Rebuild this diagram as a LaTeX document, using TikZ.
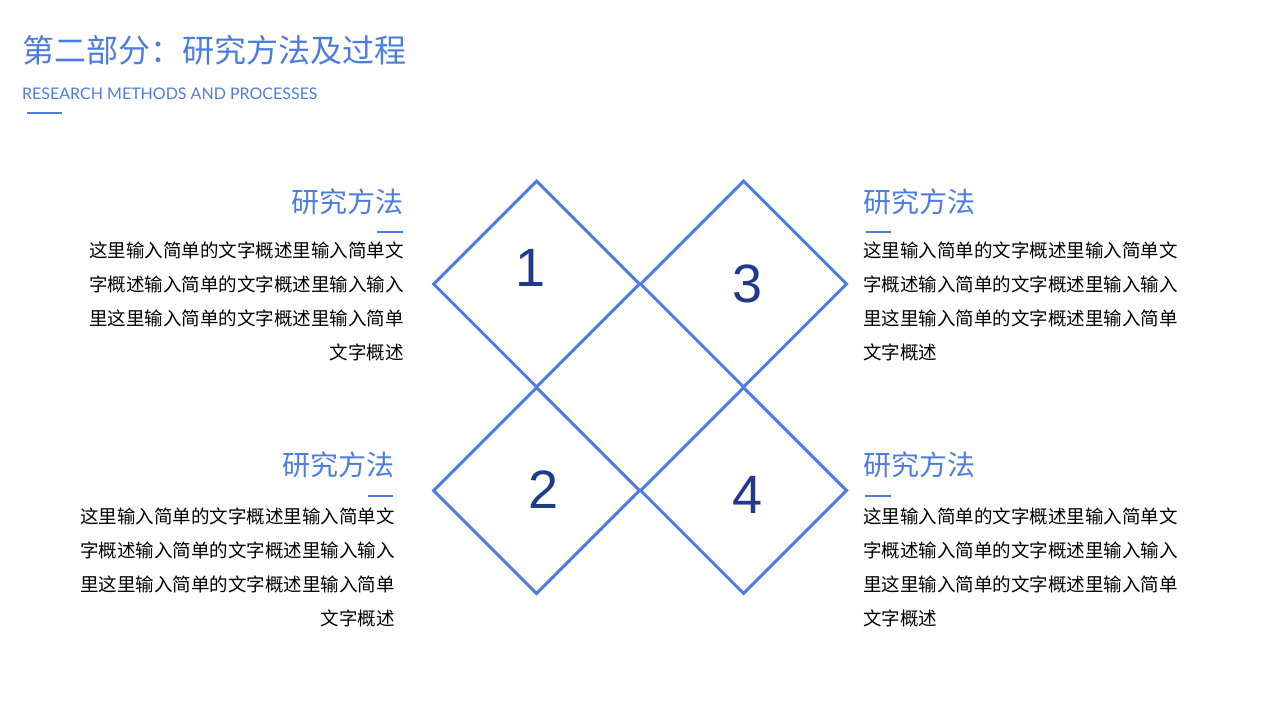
\documentclass[tikz,border=0pt]{standalone}
\usepackage{fontspec}
\setmainfont{Noto Sans CJK SC}
\newfontfamily\numfont{Liberation Sans}
\newfontfamily\latinfont{Lato}
\usetikzlibrary{shapes.geometric}
\definecolor{themeblue}{RGB}{77,124,224}
\definecolor{numblue}{RGB}{31,58,138}

\begin{document}
\begin{tikzpicture}
    [   x = 1pt, y = -1pt
    ,   diamondbox/.style = {draw = themeblue, line width = 3pt, shape = diamond,
                             minimum width = 207pt, minimum height = 207pt, inner sep = 0pt}
    ,   numlabel/.style = {text = numblue, inner sep = 0pt, font = \numfont\fontsize{54}{54}\selectfont}
    ,   heading/.style = {text = themeblue, inner sep = 0pt, font = \fontsize{28}{28}\selectfont}
    ,   bodytext/.style = {inner sep = 0pt, font = \fontsize{18.5}{34}\selectfont}
    ,   rule/.style = {draw = themeblue, line width = 2pt}
    ]
    \useasboundingbox (0,0) rectangle (1280,720);

    % title
    \node[anchor = base west, inner sep = 0pt, text = themeblue, font = \fontsize{32}{32}\selectfont]
    (title) at (22,62) {第二部分：研究方法及过程};
    \node[anchor = base west, inner sep = 0pt, text = themeblue, font = \latinfont\fontsize{16}{16}\selectfont]
    (subtitle) at (22,99) {RESEARCH METHODS AND PROCESSES};
    \draw[rule] (27,113) -- (62,113);

    % diamonds
    \node[diamondbox] (d1) at (536.5,284) {};
    \node[diamondbox] (d3) at (743.5,284) {};
    \node[diamondbox] (d2) at (536.5,490.5) {};
    \node[diamondbox] (d4) at (743.5,490.5) {};

    \node[numlabel] (n1) at (531,267.5) {1};
    \node[numlabel] (n3) at (747.5,283.5) {3};
    \node[numlabel] (n2) at (543.5,490) {2};
    \node[numlabel] (n4) at (748,495) {4};

    % left blocks
    \node[heading, anchor = north east] (h1) at (404,189) {研究方法};
    \draw[rule] (377,232) -- (403,232);
    \node[bodytext, anchor = north east, align = right] (b1) at (404,242)
    {这里输入简单的文字概述里输入简单文\\字概述输入简单的文字概述里输入输入\\里这里输入简单的文字概述里输入简单\\文字概述};

    \node[heading, anchor = north east] (h2) at (395,452) {研究方法};
    \draw[rule] (368,496) -- (393,496);
    \node[bodytext, anchor = north east, align = right] (b2) at (395,508)
    {这里输入简单的文字概述里输入简单文\\字概述输入简单的文字概述里输入输入\\里这里输入简单的文字概述里输入简单\\文字概述};

    % right blocks
    \node[heading, anchor = north west] (h3) at (863,189) {研究方法};
    \draw[rule] (866,232) -- (891,232);
    \node[bodytext, anchor = north west, align = left] (b3) at (863,242)
    {这里输入简单的文字概述里输入简单文\\字概述输入简单的文字概述里输入输入\\里这里输入简单的文字概述里输入简单\\文字概述};

    \node[heading, anchor = north west] (h4) at (863,452) {研究方法};
    \draw[rule] (865,496) -- (891,496);
    \node[bodytext, anchor = north west, align = left] (b4) at (863,508)
    {这里输入简单的文字概述里输入简单文\\字概述输入简单的文字概述里输入输入\\里这里输入简单的文字概述里输入简单\\文字概述};
\end{tikzpicture}
\end{document}
